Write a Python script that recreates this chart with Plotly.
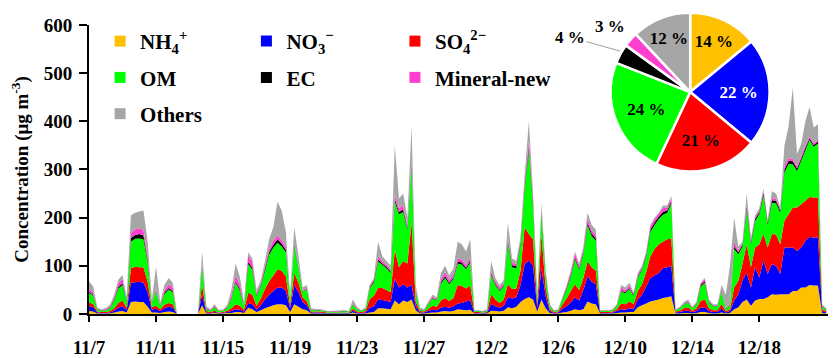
import numpy as np
import plotly.graph_objects as go

N = None

# time axis: days since 11/7 00:00, 6-hour steps
days = np.arange(0, 44.01, 0.25)

tick_vals = [0, 4, 8, 12, 16, 20, 24, 28, 32, 36, 40]
tick_text = ["11/7", "11/11", "11/15", "11/19", "11/23", "11/27",
             "12/2", "12/6", "12/10", "12/14", "12/18"]

nh4 = [6, 5, 1, 1, 1, 1, 3, 5,
       6, 3, 25, 26, 25, 25, 15, 3,
       3, 2, 4, 5, 4, N, N, N,
       N, N, N, 18, 1, 1, 2, 1,
       1, 2, 2, 4, 4, 2, 13, 10,
       4, 8, 12, 15, 18, 20, 20, 18,
       4, 20, 15, 10, 8, 1, 1, 1,
       1, 0.5, 0.5, 0.5, 1, 1, 0.5, 3,
       1, 1, 1, 3, 4, 12, 12, 11,
       10, 28, 20, 28, 25, 30, 8, 1,
       1, 2, 3, 3, 5, 6, 5, 6,
       10, 9, 8, 9, 1, 1, 0.5, 1,
       7, 6, 5, 7, 14, 12, 15, 25,
       31, 35, 30, 5, 30, 12, 2, 1,
       1, 3, 4, 7, 10, 8, 10, 26,
       22, 20, 1, 1, 1, 1, 2, 3,
       3, 4, 4, 14, 18, 22, 26, 28,
       30, 33, 35, 37, 1, 1, 2, 2,
       1, 2, 4, 4, 2, 1, 1, 3,
       1, 2, 10, 14, 25, 30, 17, 28,
       31, 31, 35, 41, 40, 41, 41, 41,
       48, 48, 55, 55, 60, 59, 59, 2,
       1]

no3 = [10, 9, 2, 1, 1, 2, 4, 8,
       10, 5, 40, 40, 42, 40, 30, 6,
       8, 4, 8, 10, 9, N, N, N,
       N, N, N, 22, 2, 1, 2, 1,
       1, 2, 4, 6, 5, 3, 10, 10,
       5, 10, 18, 25, 30, 35, 35, 30,
       8, 40, 30, 15, 10, 2, 2, 2,
       1, 1, 1, 1, 1, 1, 1, 4,
       2, 1, 2, 10, 12, 18, 17, 16,
       15, 45, 35, 34, 30, 30, 8, 2,
       2, 4, 6, 5, 8, 9, 8, 10,
       12, 14, 18, 20, 1, 1, 1, 1,
       14, 10, 8, 10, 21, 20, 20, 35,
       73, 76, 70, 8, 65, 25, 4, 1,
       2, 8, 12, 17, 25, 20, 40, 52,
       45, 42, 1, 1, 1, 2, 4, 7,
       6, 8, 7, 16, 22, 35, 49, 52,
       55, 62, 62, 62, 2, 3, 4, 5,
       3, 4, 9, 10, 4, 3, 3, 8,
       2, 4, 18, 27, 45, 55, 38, 69,
       45, 80, 48, 63, 60, 42, 97, 97,
       90, 83, 83, 97, 100, 100, 100, 4,
       2]

so4 = [8, 7, 2, 2, 2, 3, 5, 10,
       12, 5, 30, 32, 30, 32, 22, 5,
       6, 4, 7, 8, 7, N, N, N,
       N, N, N, 20, 3, 2, 3, 1,
       2, 3, 6, 10, 8, 4, 21, 20,
       8, 14, 22, 28, 32, 38, 35, 30,
       6, 25, 20, 10, 8, 2, 2, 2,
       2, 1, 1, 1, 1, 1, 1, 4,
       2, 2, 3, 18, 22, 24, 25, 23,
       20, 60, 42, 48, 50, 130, 10, 3,
       2, 5, 8, 7, 15, 18, 14, 17,
       38, 35, 27, 30, 2, 2, 1, 2,
       20, 14, 10, 13, 27, 20, 18, 30,
       76, 55, 55, 8, 70, 18, 4, 2,
       2, 8, 16, 24, 27, 22, 25, 31,
       30, 28, 2, 2, 2, 2, 4, 12,
       11, 14, 10, 18, 22, 30, 45, 55,
       60, 55, 58, 58, 2, 3, 6, 7,
       3, 6, 14, 16, 6, 4, 4, 10,
       3, 4, 27, 28, 35, 60, 42, 41,
       69, 55, 55, 62, 65, 62, 56, 69,
       83, 90, 90, 83, 83, 83, 83, 4,
       3]

om = [20, 17, 4, 3, 4, 6, 16, 30,
      32, 12, 55, 58, 60, 58, 40, 8,
      30, 6, 22, 28, 25, N, N, N,
      N, N, N, 40, 5, 3, 7, 3,
      3, 6, 20, 45, 32, 8, 60, 52,
      20, 25, 38, 55, 58, 55, 50, 50,
      12, 55, 30, 12, 25, 4, 3, 3,
      2, 2, 2, 2, 2, 3, 2, 8,
      5, 2, 5, 22, 28, 55, 48, 45,
      40, 100, 110, 102, 70, 115, 20, 4,
      3, 10, 15, 13, 35, 42, 35, 40,
      45, 45, 40, 48, 2, 2, 2, 3,
      40, 30, 25, 28, 85, 45, 42, 55,
      83, 173, 70, 12, 45, 25, 6, 2,
      3, 12, 20, 30, 52, 42, 50, 75,
      65, 62, 2, 2, 2, 3, 7, 25,
      23, 26, 17, 28, 30, 33, 50, 50,
      52, 56, 55, 73, 3, 5, 8, 10,
      5, 9, 30, 35, 12, 8, 8, 25,
      4, 8, 80, 55, 35, 72, 48, 55,
      62, 80, 47, 65, 65, 65, 100, 105,
      90, 76, 90, 105, 118, 105, 112, 5,
      3]

ec = [2, 2, 1, 0.5, 0.5, 1, 2, 3,
      4, 2, 8, 8, 9, 8, 5, 1,
      2, 1, 3, 3, 3, N, N, N,
      N, N, N, 3, 1, 0.5, 1, 0.5,
      0.5, 1, 2, 3, 3, 1, 4, 4,
      2, 2, 4, 5, 6, 7, 6, 5,
      1, 3, 2, 1, 1, 0.5, 0.5, 0.5,
      0.5, 0.5, 0.5, 0.5, 0.5, 0.5, 0.5, 1,
      0.5, 0.5, 0.5, 2, 3, 4, 3, 3,
      3, 5, 5, 5, 4, 5, 2, 0.5,
      0.5, 1, 1, 1, 3, 4, 3, 3,
      4, 4, 3, 4, 0.5, 0.5, 0.5, 0.5,
      3, 3, 2, 2, 5, 4, 4, 4,
      5, 8, 5, 1, 4, 2, 1, 0.5,
      0.5, 1, 2, 3, 4, 3, 3, 5,
      5, 5, 0.5, 0.5, 0.5, 0.5, 1, 2,
      2, 2, 2, 2, 2, 3, 5, 5,
      5, 6, 5, 4, 0.5, 0.5, 1, 1,
      0.5, 1, 3, 3, 1, 1, 1, 2,
      1, 1, 5, 4, 4, 6, 4, 4,
      4, 5, 4, 5, 5, 5, 6, 6,
      6, 5, 5, 5, 4, 4, 4, 1,
      0.5]

mineral = [6, 5, 1, 1, 2, 3, 5, 8,
           9, 3, 10, 12, 12, 12, 8, 2,
           4, 2, 6, 8, 7, N, N, N,
           N, N, N, 7, 2, 1, 2, 1,
           1, 2, 6, 12, 10, 3, 14, 12,
           5, 4, 6, 7, 8, 8, 7, 6,
           2, 4, 3, 2, 2, 1, 1, 1,
           1, 0.5, 1, 1, 1, 1, 0.5, 2,
           1, 0.5, 1, 3, 3, 7, 5, 4,
           4, 10, 8, 8, 6, 8, 4, 1,
           1, 2, 3, 3, 6, 8, 6, 7,
           6, 6, 6, 7, 1, 1, 0.5, 1,
           4, 5, 5, 4, 5, 6, 5, 5,
           10, 12, 8, 2, 6, 4, 1, 1,
           1, 2, 4, 7, 8, 6, 6, 8,
           7, 7, 1, 1, 1, 1, 1, 6,
           5, 5, 3, 4, 4, 4, 7, 7,
           6, 8, 6, 7, 1, 1, 2, 2,
           1, 2, 4, 5, 2, 1, 1, 3,
           1, 1, 10, 4, 4, 7, 5, 4,
           4, 4, 3, 5, 5, 3, 8, 6,
           5, 5, 5, 5, 4, 4, 4, 1,
           1]

others = [16, 12, 2, 1.5, 2, 3, 5, 7,
          8, 5, 37, 34, 35, 40, 30, 5,
          45, 5, 10, 13, 10, N, N, N,
          N, N, N, 20, 2, 1.5, 3, 1,
          1, 3, 10, 25, 15, 4, 6, 7,
          6, 7, 10, 20, 28, 70, 62, 31,
          7, 33, 20, 5, 6, 1.5, 1, 1,
          1, 0.5, 1, 1, 1.5, 1, 0.5, 8,
          3, 1, 2, 2, 3, 30, 10, 8,
          8, 102, 20, 25, 15, 72, 8, 1,
          1, 2, 4, 3, 13, 13, 9, 12,
          35, 32, 28, 37, 0.5, 0.5, 0.5, 1.5,
          22, 7, 5, 6, 33, 8, 6, 6,
          12, 41, 12, 4, 10, 4, 2, 0.5,
          0.5, 1, 2, 2, 4, 4, 6, 13,
          11, 11, 0.5, 0.5, 0.5, 0.5, 1, 5,
          5, 6, 2, 3, 2, 3, 3, 3,
          2, 5, 4, 4, 0.5, 1.5, 2, 3,
          1.5, 1, 1, 2, 3, 2, 2, 9,
          28, 80, 50, 8, 2, 20, 4, 4,
          5, 5, 3, 14, 10, 3, 42, 66,
          148, 25, 25, 50, 61, 32, 32, 3,
          1.5]

names = ["NH<sub>4</sub><sup>+</sup>", "NO<sub>3</sub><sup>\u2212</sup>",
         "SO<sub>4</sub><sup>2\u2212</sup>", "OM", "EC", "Mineral-new", "Others"]
colors = ["#FFC000", "#0000FF", "#FF0000", "#00FF00", "#000000", "#FF3FCF", "#A6A6A6"]
series = [nh4, no3, so4, om, ec, mineral, others]

# overall share (pie)
pie_share = [14, 22, 21, 24, 4, 3, 12]

FONT = "Liberation Serif, Times New Roman, serif"

fig = go.Figure()

for vals, c in zip(series, colors):
    fig.add_trace(go.Scatter(
        x=days, y=vals, mode="none", stackgroup="one",
        fillcolor=c, showlegend=False, hoverinfo="skip"
    ))

# legend in three columns (one legend per column)
legend_of = ["legend", "legend2", "legend3", "legend", "legend2", "legend3", "legend"]
for i, (nm, c) in enumerate(zip(names, colors)):
    fig.add_trace(go.Scatter(
        x=[None], y=[None], mode="markers", name=nm,
        marker=dict(symbol="square", size=11, color=c),
        legend=legend_of[i], legendgroup=str(i)
    ))

fig.add_trace(go.Pie(
    values=pie_share, marker=dict(colors=colors, line=dict(color="white", width=2.5)),
    sort=False, direction="clockwise", rotation=0,
    texttemplate="%{value} %",
    textposition=["inside", "inside", "inside", "inside", "none", "none", "inside"],
    insidetextorientation="horizontal",
    insidetextfont=dict(family=FONT, size=17, weight="bold",
                        color=["black", "white", "black", "black", "white", "black", "black"]),
    domain=dict(x=[0.706, 0.921], y=[0.467, 0.993]),
    showlegend=False, hoverinfo="skip"
))

# labels of the two thin slices, placed outside the pie
fig.add_annotation(x=0.7185, y=0.865, xref="paper", yref="paper",
                   text=f"{pie_share[4]} %", showarrow=True, arrowhead=0,
                   arrowwidth=1, arrowcolor="#A0A0A0", ax=-50, ay=-14,
                   font=dict(family=FONT, size=17, weight="bold", color="black"))
fig.add_annotation(x=0.682, y=0.947, xref="paper", yref="paper",
                   xanchor="left", yanchor="middle",
                   text=f"{pie_share[5]} %", showarrow=False,
                   font=dict(family=FONT, size=17, weight="bold", color="black"))

leg = dict(font=dict(family=FONT, size=21, color="black", weight="bold"),
           bgcolor="rgba(0,0,0,0)", tracegroupgap=6, itemwidth=30,
           xanchor="left", yanchor="top", y=0.964)

fig.update_layout(
    width=832, height=350,
    margin=dict(l=81, r=12, t=2, b=44),
    paper_bgcolor="white", plot_bgcolor="white",
    font=dict(family=FONT, color="black"),
    legend=dict(leg, x=0.015),
    legend2=dict(leg, x=0.213),
    legend3=dict(leg, x=0.414),
    xaxis=dict(range=[0, 44.1], tickvals=tick_vals, ticktext=tick_text,
               showline=True, linecolor="black", linewidth=2,
               ticks="outside", ticklen=6, tickwidth=2, tickcolor="black",
               ticklabelstandoff=9, automargin=False,
               showgrid=False, zeroline=False,
               tickfont=dict(family=FONT, size=19, weight="bold")),
    yaxis=dict(range=[0, 600], dtick=100, domain=[0, 0.9507],
               showline=True, linecolor="black", linewidth=2,
               ticks="outside", ticklen=8, tickwidth=2, tickcolor="black",
               ticklabelstandoff=3, automargin=False,
               showgrid=False, zeroline=False,
               tickfont=dict(family=FONT, size=19, weight="bold"),
               title=dict(text="Concentration (\u03bcg m<sup>-3</sup>)", standoff=10,
                          font=dict(family=FONT, size=19, weight="bold"))),
)

fig.write_html("out.html")
